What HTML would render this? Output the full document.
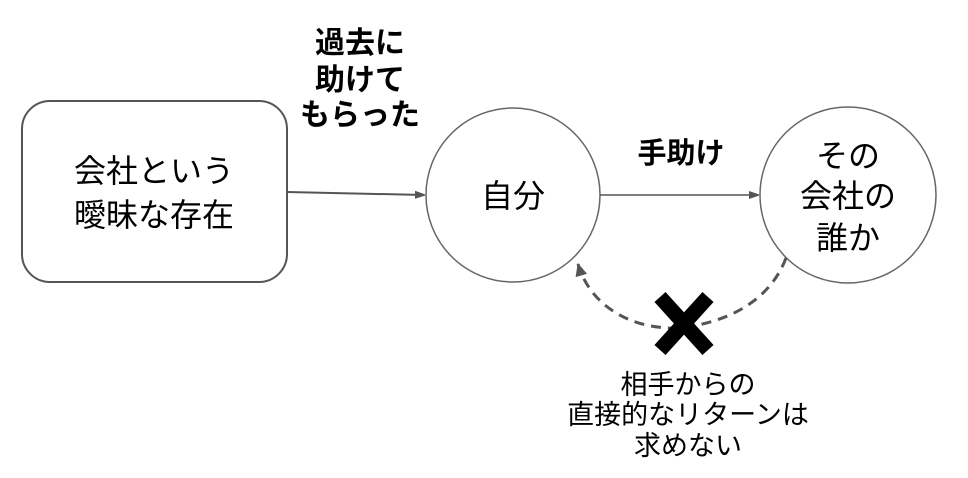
<!DOCTYPE html>
<html><head><meta charset="utf-8"><style>
body{margin:0;width:968px;height:473px;background:#fff;overflow:hidden}
text{font-family:"Liberation Sans","Noto Sans CJK JP",sans-serif;fill:#000}
</style></head><body>
<svg width="968" height="473" viewBox="0 0 968 473">
<defs>
<marker id="a" markerWidth="10" markerHeight="10" refX="9" refY="5" orient="auto" markerUnits="userSpaceOnUse"><path d="M0,1 L12,5 L0,9 z" fill="#555"/></marker>
<marker id="b" markerWidth="14" markerHeight="14" refX="12" refY="6" orient="auto" markerUnits="userSpaceOnUse"><path d="M0,0 L13,6 L0,12 z" fill="#555"/></marker>
</defs>
<rect x="22" y="101" width="265" height="181" rx="28" fill="#fff" stroke="#555" stroke-width="2"/>
<circle cx="513" cy="195" r="87" fill="#fff" stroke="#666" stroke-width="1.5"/>
<circle cx="848" cy="195" r="88" fill="#fff" stroke="#666" stroke-width="1.5"/>
<line x1="287" y1="192" x2="424" y2="195" stroke="#555" stroke-width="2" marker-end="url(#a)"/>
<line x1="600" y1="195" x2="758" y2="195" stroke="#555" stroke-width="1.5" marker-end="url(#a)"/>
<path d="M786,258 C770,300 730,322 680,328 C630,330 590,305 578,264" fill="none" stroke="#555" stroke-width="3" stroke-dasharray="10,7" marker-end="url(#b)"/>
<g stroke="#000" stroke-width="15">
<line x1="660" y1="297" x2="708" y2="350"/><line x1="708" y1="297" x2="660" y2="350"/>
</g>
<g font-size="30" font-weight="bold" text-anchor="middle">
<text x="360" y="53">過去に</text><text x="360" y="90">助けて</text><text x="360" y="125">もらった</text>
<text x="681" y="163" font-size="29">手助け</text>
</g>
<g font-size="32" text-anchor="middle">
<text x="154" y="182">会社という</text><text x="154" y="226">曖昧な存在</text>
<text x="513" y="207">自分</text>
<text x="848" y="167">その</text><text x="848" y="207">会社の</text><text x="848" y="249">誰か</text>
</g>
<g font-size="27" text-anchor="middle">
<text x="688" y="394">相手からの</text><text x="688" y="424">直接的なリターンは</text><text x="688" y="455">求めない</text>
</g>
</svg>
</body></html>
